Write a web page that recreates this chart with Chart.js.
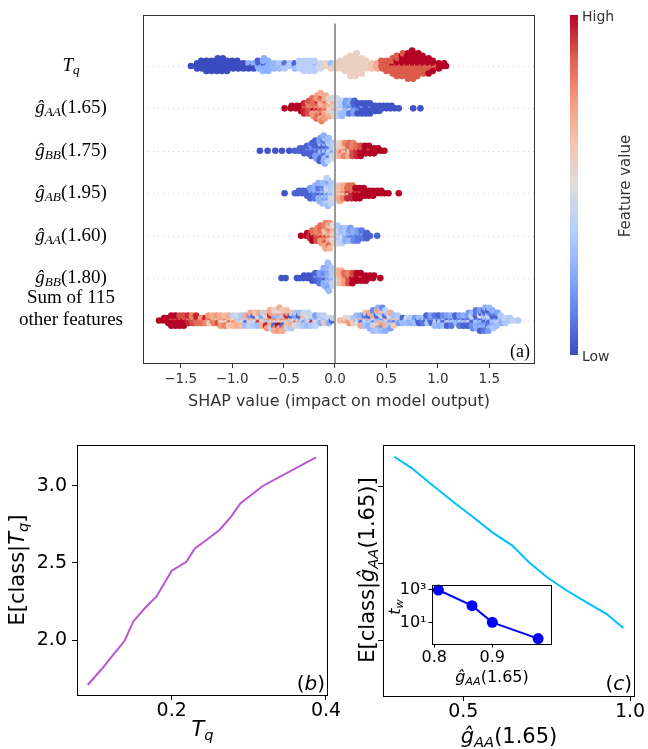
<!DOCTYPE html>
<html>
<head>
<meta charset="utf-8">
<script src="https://cdn.jsdelivr.net/npm/chart.js@4.4.1/dist/chart.umd.min.js"></script>
<style>
  body { margin: 0; background: #fff; }
  #wrap { position: relative; width: 648px; height: 749px; overflow: hidden; }
  canvas { position: absolute; }
</style>
</head>
<body>
<div id="wrap">
  <canvas id="shapChart" width="648" height="420" style="left:0;top:0"></canvas>
  <canvas id="tqChart" width="648" height="324" style="left:0;top:425px"></canvas>
  <canvas id="gaaChart" width="648" height="324" style="left:0;top:425px"></canvas>
  <canvas id="twChart" width="185" height="120" style="left:380px;top:570px"></canvas>
</div>
<script>
// ---- data ----
// swarm entries: [SHAP value, number of samples, feature value (0 = low, 1 = high)]
const swarmTq = [
  [-1.40, 1, 0], [-1.35, 3, 0], [-1.30, 4, 0], [-1.25, 5, 0], [-1.20, 5, 0], [-1.15, 6, 0],
  [-1.10, 6, 0], [-1.05, 5, 0], [-1.00, 4, 0], [-0.95, 4, 0], [-0.90, 3, 0],
  [-0.85, 2, 0], [-0.85, 1, 0.25], [-0.80, 2, 0], [-0.80, 1, 0.25], [-0.75, 2, 0.25], [-0.75, 2, 0.05],
  [-0.70, 5, 0.25], [-0.70, 1, 0.05], [-0.65, 5, 0.25], [-0.60, 3, 0.28], [-0.55, 2, 0.3], [-0.55, 1, 0.35],
  [-0.50, 2, 0.35], [-0.50, 1, 0.1], [-0.45, 2, 0.35], [-0.40, 2, 0.3], [-0.40, 1, 0.05],
  [-0.35, 4, 0.38], [-0.30, 5, 0.38], [-0.25, 5, 0.38], [-0.20, 4, 0.38], [-0.20, 1, 0.3],
  [-0.15, 3, 0.45], [-0.10, 2, 0.55], [-0.05, 2, 0.55], [-0.05, 1, 0.3],
  [0.00, 3, 0.57], [0.05, 4, 0.57], [0.10, 6, 0.57], [0.15, 9, 0.57], [0.20, 10, 0.57], [0.25, 7, 0.57],
  [0.30, 4, 0.57], [0.35, 3, 0.62], [0.40, 3, 0.7],
  [0.45, 4, 0.88], [0.50, 5, 0.88], [0.55, 6, 0.88], [0.55, 1, 1], [0.60, 7, 0.88], [0.60, 2, 1],
  [0.65, 6, 0.88], [0.65, 4, 1], [0.70, 6, 0.88], [0.70, 5, 1], [0.75, 6, 0.88], [0.75, 6, 1],
  [0.80, 5, 0.88], [0.80, 5, 1], [0.85, 4, 0.88], [0.85, 4, 1], [0.90, 3, 0.88], [0.90, 4, 1],
  [0.95, 2, 0.88], [0.95, 3, 1], [1.00, 1, 0.88], [1.00, 2, 1], [1.05, 2, 1], [1.08, 1, 1]
];
const swarmAA165 = [
  [-0.49, 1, 1], [-0.43, 2, 1], [-0.38, 2, 1], [-0.34, 3, 1], [-0.30, 4, 0.95], [-0.30, 1, 0.85],
  [-0.26, 4, 0.9], [-0.26, 2, 0.8], [-0.22, 4, 0.85], [-0.22, 3, 0.75], [-0.22, 1, 1],
  [-0.18, 4, 0.85], [-0.18, 4, 0.75], [-0.18, 2, 0.95], [-0.14, 4, 0.8], [-0.14, 4, 0.7], [-0.14, 3, 0.9], [-0.14, 1, 0.65],
  [-0.10, 4, 0.75], [-0.10, 4, 0.7], [-0.10, 2, 0.85], [-0.06, 3, 0.7], [-0.06, 3, 0.6], [-0.06, 2, 0.5],
  [-0.02, 3, 0.6], [-0.02, 3, 0.45], [-0.02, 2, 0.7], [0.02, 4, 0.45], [0.02, 3, 0.4], [0.02, 1, 0.6],
  [0.06, 3, 0.4], [0.06, 3, 0.3], [0.06, 1, 0.5], [0.10, 3, 0.3], [0.10, 3, 0.2],
  [0.14, 3, 0.25], [0.14, 2, 0.1], [0.14, 1, 0.4], [0.18, 3, 0.2], [0.18, 3, 0.05],
  [0.22, 2, 0.15], [0.22, 3, 0.02], [0.26, 4, 0.02], [0.26, 1, 0.2], [0.30, 5, 0.02],
  [0.34, 4, 0.02], [0.34, 1, 0.15], [0.38, 3, 0.02], [0.42, 3, 0.02], [0.46, 2, 0.02],
  [0.50, 2, 0.02], [0.54, 2, 0.02], [0.58, 1, 0.02], [0.62, 1, 0.02], [0.76, 1, 0.02], [0.83, 1, 0.02]
];
const swarmBB175 = [
  [-0.73, 1, 0.02], [-0.655, 1, 0.02], [-0.58, 1, 0.02], [-0.515, 1, 0.02], [-0.445, 1, 0.02],
  [-0.39, 1, 0.05], [-0.35, 2, 0.05], [-0.31, 3, 0.05], [-0.27, 3, 0.05], [-0.27, 1, 0.15],
  [-0.23, 4, 0.05], [-0.23, 2, 0.15], [-0.19, 4, 0.05], [-0.19, 3, 0.2], [-0.19, 1, 0.1],
  [-0.15, 4, 0.05], [-0.15, 4, 0.2], [-0.15, 2, 0.3],
  [-0.11, 3, 0.1], [-0.11, 5, 0.25], [-0.11, 3, 0.35], [-0.11, 1, 0.05],
  [-0.07, 3, 0.1], [-0.07, 4, 0.3], [-0.07, 3, 0.4], [-0.03, 3, 0.35], [-0.03, 3, 0.45], [-0.03, 1, 0.2],
  [0.01, 3, 0.5], [0.01, 2, 0.6], [0.01, 1, 0.7], [0.05, 3, 0.6], [0.05, 2, 0.7], [0.05, 1, 0.85],
  [0.09, 2, 0.65], [0.09, 3, 0.8], [0.09, 1, 0.55], [0.13, 3, 0.85], [0.13, 2, 0.7], [0.13, 1, 0.6],
  [0.17, 3, 0.9], [0.17, 3, 0.8], [0.21, 3, 0.95], [0.21, 2, 0.85], [0.25, 3, 1], [0.25, 2, 0.9],
  [0.29, 4, 1], [0.33, 3, 1], [0.33, 1, 0.9], [0.37, 3, 1], [0.41, 2, 1], [0.45, 1, 1], [0.48, 1, 1]
];
const swarmAB195 = [
  [-0.49, 1, 0.02], [-0.39, 1, 0.05], [-0.36, 2, 0.05], [-0.32, 2, 0.05], [-0.28, 3, 0.05],
  [-0.24, 3, 0.05], [-0.24, 2, 0.2], [-0.20, 3, 0.1], [-0.20, 3, 0.25],
  [-0.16, 3, 0.1], [-0.16, 4, 0.25], [-0.16, 1, 0.05], [-0.12, 3, 0.2], [-0.12, 4, 0.3], [-0.12, 2, 0.1],
  [-0.08, 4, 0.3], [-0.08, 4, 0.38], [-0.08, 3, 0.2], [-0.08, 1, 0.45],
  [-0.04, 4, 0.35], [-0.04, 4, 0.42], [-0.04, 1, 0.25], [0.00, 3, 0.45], [0.00, 3, 0.55], [0.00, 1, 0.35],
  [0.04, 3, 0.65], [0.04, 3, 0.7], [0.04, 1, 0.55], [0.08, 3, 0.7], [0.08, 2, 0.8], [0.08, 1, 0.6],
  [0.12, 3, 0.85], [0.12, 2, 0.95], [0.12, 1, 0.7], [0.16, 3, 0.95], [0.16, 3, 0.85],
  [0.20, 4, 1], [0.20, 1, 0.9], [0.24, 4, 1], [0.24, 1, 0.9], [0.28, 4, 1], [0.32, 3, 1], [0.36, 3, 1],
  [0.40, 2, 1], [0.44, 2, 1], [0.48, 1, 1], [0.52, 1, 1], [0.62, 1, 1]
];
const swarmAA160 = [
  [-0.33, 1, 1], [-0.28, 2, 1], [-0.25, 3, 0.95], [-0.22, 3, 1], [-0.22, 2, 0.85],
  [-0.18, 3, 0.9], [-0.18, 3, 0.8], [-0.14, 4, 0.85], [-0.14, 3, 0.75], [-0.14, 1, 0.95],
  [-0.10, 4, 0.8], [-0.10, 4, 0.7], [-0.10, 2, 0.9], [-0.10, 1, 0.6],
  [-0.06, 4, 0.75], [-0.06, 4, 0.65], [-0.06, 3, 0.85], [-0.02, 3, 0.6], [-0.02, 3, 0.5], [-0.02, 2, 0.7],
  [0.02, 3, 0.45], [0.02, 3, 0.35], [0.02, 2, 0.55], [0.06, 3, 0.3], [0.06, 3, 0.4], [0.06, 1, 0.5],
  [0.10, 3, 0.25], [0.10, 3, 0.35], [0.14, 3, 0.2], [0.14, 2, 0.3], [0.14, 1, 0.1],
  [0.18, 3, 0.15], [0.18, 2, 0.25], [0.22, 3, 0.1], [0.22, 2, 0.2], [0.26, 3, 0.1], [0.26, 1, 0.2],
  [0.30, 3, 0.05], [0.34, 1, 0.05], [0.41, 1, 0.05]
];
const swarmBB180 = [
  [-0.52, 1, 0.02], [-0.48, 1, 0.02], [-0.37, 1, 0.02], [-0.345, 1, 0.02], [-0.31, 2, 0.02],
  [-0.27, 2, 0.02], [-0.23, 3, 0.02], [-0.19, 3, 0.05], [-0.19, 1, 0.2], [-0.15, 3, 0.1], [-0.15, 2, 0.2],
  [-0.11, 3, 0.15], [-0.11, 4, 0.25], [-0.11, 1, 0.05], [-0.07, 4, 0.25], [-0.07, 5, 0.3], [-0.07, 3, 0.2],
  [-0.03, 4, 0.35], [-0.03, 3, 0.4], [-0.03, 1, 0.25], [0.01, 3, 0.5], [0.01, 3, 0.65],
  [0.05, 3, 0.65], [0.05, 3, 0.7], [0.09, 3, 0.75], [0.09, 2, 0.85], [0.13, 3, 0.9], [0.13, 2, 0.8],
  [0.17, 3, 1], [0.17, 2, 0.9], [0.21, 4, 1], [0.25, 3, 1], [0.25, 1, 0.9], [0.29, 3, 1],
  [0.33, 2, 1], [0.37, 2, 1], [0.44, 1, 1]
];
const swarmRest = [
  [-1.71, 1, 1], [-1.67, 2, 1], [-1.63, 3, 1], [-1.59, 4, 1], [-1.59, 1, 0.9], [-1.55, 4, 1], [-1.55, 1, 0.9],
  [-1.51, 3, 1], [-1.51, 2, 0.9], [-1.47, 3, 1], [-1.47, 2, 0.9], [-1.43, 3, 0.95], [-1.43, 1, 0.8],
  [-1.39, 2, 0.9], [-1.39, 2, 0.8], [-1.35, 2, 0.85], [-1.35, 2, 0.95], [-1.31, 2, 0.85], [-1.31, 1, 0.75],
  [-1.27, 2, 0.8], [-1.27, 1, 0.95], [-1.23, 2, 0.75], [-1.23, 1, 0.85], [-1.23, 1, 0.6],
  [-1.19, 2, 0.8], [-1.19, 2, 0.7], [-1.15, 2, 0.75], [-1.15, 1, 0.6], [-1.15, 1, 0.9],
  [-1.11, 2, 0.7], [-1.11, 2, 0.75], [-1.11, 1, 0.5], [-1.07, 2, 0.65], [-1.07, 2, 0.8], [-1.07, 1, 0.55],
  [-1.03, 2, 0.7], [-1.03, 2, 0.6], [-1.03, 1, 0.85], [-0.99, 2, 0.65], [-0.99, 1, 0.5], [-0.99, 1, 0.75], [-0.99, 1, 0.4],
  [-0.95, 2, 0.7], [-0.95, 1, 0.35], [-0.95, 1, 0.6], [-0.95, 1, 0.45],
  [-0.91, 2, 0.35], [-0.91, 2, 0.65], [-0.91, 1, 0.5], [-0.87, 2, 0.3], [-0.87, 1, 0.6], [-0.87, 1, 0.05], [-0.87, 1, 0.7],
  [-0.83, 2, 0.4], [-0.83, 2, 0.7], [-0.83, 1, 0.55], [-0.83, 1, 0.2],
  [-0.79, 2, 0.35], [-0.79, 2, 0.65], [-0.79, 1, 0.5], [-0.79, 1, 0.05],
  [-0.75, 2, 0.3], [-0.75, 2, 0.7], [-0.75, 1, 0.95], [-0.75, 1, 0.45],
  [-0.71, 2, 0.7], [-0.71, 2, 0.4], [-0.71, 1, 0.55], [-0.71, 1, 0.2],
  [-0.67, 2, 0.65], [-0.67, 2, 0.75], [-0.67, 1, 0.35], [-0.67, 1, 0.5], [-0.67, 1, 0.95],
  [-0.63, 3, 0.7], [-0.63, 2, 0.75], [-0.63, 2, 0.4], [-0.63, 1, 0.95],
  [-0.59, 3, 0.7], [-0.59, 2, 0.8], [-0.59, 2, 0.55], [-0.59, 1, 0.25], [-0.59, 1, 0.05],
  [-0.55, 3, 0.75], [-0.55, 3, 0.7], [-0.55, 2, 0.5], [-0.55, 1, 0.3], [-0.55, 1, 1],
  [-0.51, 3, 0.7], [-0.51, 2, 0.8], [-0.51, 2, 0.6], [-0.51, 1, 0.35], [-0.51, 1, 0.05],
  [-0.47, 3, 0.65], [-0.47, 2, 0.75], [-0.47, 2, 0.4], [-0.47, 1, 0.95],
  [-0.43, 2, 0.7], [-0.43, 2, 0.6], [-0.43, 2, 0.35], [-0.43, 1, 0.05],
  [-0.39, 2, 0.55], [-0.39, 2, 0.35], [-0.39, 1, 0.8], [-0.39, 1, 0.2],
  [-0.35, 2, 0.4], [-0.35, 2, 0.3], [-0.35, 1, 0.7], [-0.35, 1, 0.05],
  [-0.31, 2, 0.35], [-0.31, 2, 0.45], [-0.31, 1, 0.2], [-0.31, 1, 0.65],
  [-0.27, 2, 0.3], [-0.27, 2, 0.4], [-0.27, 1, 0.6], [-0.27, 1, 0.5],
  [-0.23, 2, 0.35], [-0.23, 1, 0.25], [-0.23, 1, 0.95], [-0.23, 1, 0.45],
  [-0.19, 2, 0.4], [-0.19, 1, 0.3], [-0.19, 1, 0.55], [-0.19, 1, 0.2],
  [-0.15, 2, 0.35], [-0.15, 1, 0.45], [-0.15, 1, 0.25], [-0.11, 2, 0.4], [-0.11, 1, 0.3], [-0.11, 1, 0.6],
  [-0.07, 1, 0.35], [-0.07, 1, 0.45], [-0.07, 1, 0.25], [-0.03, 1, 0.05], [-0.03, 1, 0.4],
  [0.05, 1, 0.65], [0.09, 1, 0.7], [0.09, 1, 0.55], [0.13, 2, 0.75], [0.13, 1, 0.5],
  [0.17, 2, 0.6], [0.17, 1, 0.35], [0.21, 2, 0.3], [0.21, 1, 0.65], [0.21, 1, 0.5],
  [0.25, 2, 0.25], [0.25, 2, 0.7], [0.25, 1, 0.05], [0.29, 2, 0.3], [0.29, 2, 0.65], [0.29, 1, 0.45], [0.29, 1, 0.1],
  [0.33, 3, 0.25], [0.33, 2, 0.7], [0.33, 1, 0.4], [0.33, 1, 0.05],
  [0.37, 3, 0.3], [0.37, 2, 0.6], [0.37, 2, 0.15], [0.37, 1, 0.7], [0.37, 1, 0.45],
  [0.41, 3, 0.35], [0.41, 3, 0.25], [0.41, 2, 0.7], [0.41, 1, 0.05], [0.41, 1, 0.55],
  [0.45, 3, 0.3], [0.45, 3, 0.15], [0.45, 2, 0.65], [0.45, 1, 0.45], [0.45, 1, 0.75],
  [0.49, 3, 0.25], [0.49, 2, 0.65], [0.49, 2, 0.4], [0.49, 1, 0.05], [0.49, 1, 0.7],
  [0.53, 2, 0.35], [0.53, 2, 0.7], [0.53, 2, 0.2], [0.53, 1, 0.5], [0.57, 2, 0.3], [0.57, 2, 0.6], [0.57, 1, 0.1],
  [0.61, 2, 0.35], [0.61, 1, 0.65], [0.61, 1, 0.2], [0.65, 2, 0.3], [0.65, 1, 0.05],
  [0.69, 2, 0.3], [0.69, 1, 0.45], [0.73, 2, 0.25], [0.73, 1, 0.35], [0.77, 2, 0.3], [0.77, 1, 0.2],
  [0.81, 2, 0.05], [0.81, 1, 0.3], [0.85, 2, 0.1], [0.85, 1, 0.3],
  [0.89, 2, 0.05], [0.89, 1, 0.25], [0.89, 1, 0.35], [0.93, 2, 0.05], [0.93, 2, 0.2],
  [0.97, 2, 0.1], [0.97, 2, 0.3], [0.97, 1, 0.5], [1.01, 2, 0.05], [1.01, 2, 0.25], [1.01, 1, 0.4],
  [1.05, 2, 0.15], [1.05, 2, 0.3], [1.05, 1, 0.05], [1.09, 2, 0.2], [1.09, 2, 0.05], [1.09, 1, 0.45],
  [1.13, 2, 0.25], [1.13, 2, 0.1], [1.13, 1, 0.35], [1.17, 2, 0.3], [1.17, 2, 0.05],
  [1.21, 2, 0.2], [1.21, 2, 0.1], [1.21, 1, 0.4], [1.25, 2, 0.25], [1.25, 2, 0.05], [1.25, 1, 0.35],
  [1.29, 3, 0.2], [1.29, 2, 0.05], [1.29, 1, 0.5], [1.33, 3, 0.15], [1.33, 2, 0.3], [1.33, 1, 0.05], [1.33, 1, 0.45],
  [1.37, 3, 0.25], [1.37, 3, 0.1], [1.37, 1, 0.35], [1.37, 1, 0.05],
  [1.41, 3, 0.2], [1.41, 3, 0.05], [1.41, 2, 0.3], [1.41, 1, 0.5],
  [1.45, 3, 0.1], [1.45, 3, 0.25], [1.45, 2, 0.05], [1.45, 1, 0.35], [1.45, 1, 0.2],
  [1.49, 3, 0.2], [1.49, 3, 0.3], [1.49, 2, 0.05], [1.49, 1, 0.45], [1.49, 1, 0.1],
  [1.53, 3, 0.25], [1.53, 2, 0.15], [1.53, 2, 0.35], [1.53, 1, 0.05],
  [1.57, 2, 0.3], [1.57, 2, 0.2], [1.57, 1, 0.4], [1.57, 1, 0.05],
  [1.61, 2, 0.35], [1.61, 1, 0.3], [1.61, 1, 0.25], [1.65, 2, 0.35], [1.65, 1, 0.4],
  [1.69, 2, 0.35], [1.73, 1, 0.4], [1.78, 1, 0.35]
];
const swarms = [swarmTq, swarmAA165, swarmBB175, swarmAB195, swarmAA160, swarmBB180, swarmRest];

// row labels, top to bottom: lines of [text, style] ('i' italic, 's' subscript)
const rowLabels = [
  [[['T', 'i'], ['q', 'is']]],
  [[['ĝ', 'i'], ['AA', 'is'], ['(1.65)', '']]],
  [[['ĝ', 'i'], ['BB', 'is'], ['(1.75)', '']]],
  [[['ĝ', 'i'], ['AB', 'is'], ['(1.95)', '']]],
  [[['ĝ', 'i'], ['AA', 'is'], ['(1.60)', '']]],
  [[['ĝ', 'i'], ['BB', 'is'], ['(1.80)', '']]],
  [[['Sum of 115', '']], [['other features', '']]]
];
const shapTicks = [-1.5, -1.0, -0.5, 0.0, 0.5, 1.0, 1.5];

// (b) E[class | Tq]
const tqX = [0.091, 0.109, 0.124, 0.139, 0.150, 0.165, 0.180, 0.189, 0.200, 0.219, 0.230, 0.245, 0.262, 0.277, 0.289, 0.318, 0.387];
const tqY = [1.708, 1.810, 1.903, 1.995, 2.119, 2.206, 2.281, 2.357, 2.450, 2.508, 2.595, 2.649, 2.714, 2.801, 2.887, 3.000, 3.186];
const tqTicks = [0.2, 0.4];
const classTicks = [2.0, 2.5, 3.0];

// (c) E[class | gAA(1.65)]
const gaaX = [0.293, 0.346, 0.401, 0.476, 0.531, 0.586, 0.646, 0.696, 0.751, 0.810, 0.870, 0.930, 0.980];
const gaaY = [3.190, 3.115, 3.017, 2.888, 2.797, 2.703, 2.617, 2.509, 2.411, 2.325, 2.249, 2.173, 2.082];
const gaaTicks = [0.5, 1.0];

// inset: t_w vs gAA(1.65)
const twX = [0.807, 0.865, 0.900, 0.979];
const twY = [1000, 110, 10.5, 1.07];
const twXTicks = [0.8, 0.9];
const twYTicks = [10, 1000];

// ---- helpers ----
Chart.defaults.font.family = "'DejaVu Sans'";

const coolwarmStops = [
  [59, 76, 192], [98, 130, 234], [141, 176, 254], [184, 208, 249], [221, 220, 220],
  [245, 196, 173], [244, 154, 123], [222, 96, 77], [180, 4, 38]
];
function coolwarm(v) {
  const t = Math.min(Math.max(v, 0), 1) * 8;
  const i = Math.min(Math.floor(t), 7);
  const f = t - i;
  const a = coolwarmStops[i], b = coolwarmStops[i + 1];
  return 'rgb(' + a.map((c, k) => Math.round(c + (b[k] - c) * f)).join(',') + ')';
}

// stack the samples of each SHAP value up and down around the row (beeswarm layout)
const ROW_STEP = 0.06;
function layoutSwarm(entries, row) {
  const cols = new Map();
  entries.forEach(([x, n, fv]) => {
    if (!cols.has(x)) cols.set(x, []);
    cols.get(x).push({ n, fv });
  });
  const pts = [];
  cols.forEach((groups, x) => {
    const fvs = [];
    let more = true;
    while (more) {
      more = false;
      groups.forEach(g => { if (g.n > 0) { fvs.push(g.fv); g.n--; more = true; } });
    }
    fvs.forEach((fv, i) => {
      const k = i % 2 ? (i + 1) / 2 : -i / 2;
      pts.push({ x: x + (Math.abs(k) % 2 ? 0.01 : 0), y: row + k * ROW_STEP, fv });
    });
  });
  return pts;
}

// draw text made of parts with italic / subscript pieces
function drawRich(ctx, parts, x, y, size, family, align, rotate) {
  ctx.save();
  ctx.translate(x, y);
  if (rotate) ctx.rotate(-Math.PI / 2);
  const pieces = parts.map(([t, st]) => {
    const sub = st.includes('s');
    const sz = sub ? size * 0.7 : size;
    return { t, font: (st.includes('i') ? 'italic ' : '') + sz + 'px ' + family, dy: sub ? size * 0.24 : 0 };
  });
  let w = 0;
  pieces.forEach(p => { ctx.font = p.font; p.w = ctx.measureText(p.t).width; w += p.w; });
  let cx = align === 'right' ? -w : align === 'left' ? 0 : -w / 2;
  ctx.textBaseline = 'middle';
  ctx.textAlign = 'left';
  ctx.fillStyle = '#000';
  pieces.forEach(p => { ctx.font = p.font; ctx.fillText(p.t, cx, p.dy); cx += p.w; });
  ctx.restore();
}

function frame(ctx, a, color) {
  ctx.save();
  ctx.strokeStyle = color;
  ctx.lineWidth = 1;
  ctx.strokeRect(Math.round(a.left) + 0.5, Math.round(a.top) + 0.5,
    Math.round(a.right - a.left) - 1, Math.round(a.bottom - a.top));
  ctx.restore();
}

// ---- (a) SHAP beeswarm ----
const swarmData = [];
swarms.forEach((s, i) => swarmData.push(...layoutSwarm(s, swarms.length - 1 - i)));

const shapDecor = {
  id: 'shapDecor',
  beforeDatasetsDraw(chart) {
    const { ctx, chartArea: a, scales: { y } } = chart;
    ctx.save();
    ctx.strokeStyle = '#cccccc';
    ctx.lineWidth = 1;
    ctx.setLineDash([1, 4]);
    swarms.forEach((s, i) => {
      const py = Math.round(y.getPixelForValue(swarms.length - 1 - i)) + 0.5;
      ctx.beginPath();
      ctx.moveTo(a.left, py);
      ctx.lineTo(a.right, py);
      ctx.stroke();
    });
    ctx.restore();
  },
  afterDraw(chart) {
    const { ctx, chartArea: a, scales: { y } } = chart;
    frame(ctx, a, '#333');
    rowLabels.forEach((lines, i) => {
      const py = y.getPixelForValue(swarms.length - 1 - i);
      lines.forEach((parts, j) => {
        const off = lines.length > 1 ? -23 + 22 * j : 0;
        drawRich(ctx, parts, 71, py + off, 19, "'Liberation Serif'", 'center', false);
      });
    });
    drawRich(ctx, [['(a)', '']], a.right - 5, a.bottom - 11, 18, "'Liberation Serif'", 'right', false);

    // colour bar
    const g = ctx.createLinearGradient(0, 355, 0, 15);
    coolwarmStops.forEach((c, k) => g.addColorStop(k / 8, 'rgb(' + c.join(',') + ')'));
    ctx.save();
    ctx.fillStyle = g;
    ctx.fillRect(570, 15, 8, 340);
    ctx.fillStyle = '#333';
    ctx.font = "14px 'DejaVu Sans'";
    ctx.textBaseline = 'middle';
    ctx.textAlign = 'left';
    ctx.fillText('High', 582, 17);
    ctx.fillText('Low', 582, 357);
    ctx.font = "15px 'DejaVu Sans'";
    ctx.translate(626, 186);
    ctx.rotate(-Math.PI / 2);
    ctx.textAlign = 'center';
    ctx.fillText('Feature value', 0, 0);
    ctx.restore();
  }
};

new Chart(document.getElementById('shapChart'), {
  type: 'scatter',
  data: {
    datasets: [
      {
        data: [{ x: 0, y: -1 }, { x: 0, y: 7 }],
        showLine: true,
        borderColor: '#999999',
        borderWidth: 2,
        pointRadius: 0,
        order: 0
      },
      {
        data: swarmData,
        pointRadius: 3.3,
        pointBorderWidth: 0,
        pointBackgroundColor: c => coolwarm(c.raw ? c.raw.fv : 0.5),
        order: 1
      }
    ]
  },
  options: {
    responsive: false,
    animation: false,
    events: [],
    layout: { padding: { left: 143, right: 113, top: 15, bottom: 0 } },
    plugins: { legend: { display: false }, tooltip: { enabled: false } },
    scales: {
      x: {
        type: 'linear',
        min: -1.866,
        max: 1.944,
        afterBuildTicks: s => { s.ticks = shapTicks.map(v => ({ value: v })); },
        afterFit: s => { s.height = 57; },
        border: { display: false },
        grid: { drawOnChartArea: false, tickLength: 5, color: '#333' },
        ticks: {
          color: '#333',
          font: { size: 13.5, lineHeight: 1 },
          padding: 5,
          autoSkip: false,
          maxRotation: 0,
          callback: v => (v < 0 ? '\u2212' : '') + Math.abs(v).toFixed(1)
        },
        title: {
          display: true,
          text: 'SHAP value (impact on model output)',
          color: '#333',
          font: { size: 16, lineHeight: 1 },
          padding: { top: 0, bottom: 10 }
        }
      },
      y: { type: 'linear', min: -1, max: 7.2, display: false }
    }
  },
  plugins: [shapDecor]
});

// ---- (b) and (c) ----
function panelOptions(o) {
  return {
    responsive: false,
    animation: false,
    events: [],
    layout: { padding: o.padding },
    plugins: { legend: { display: false }, tooltip: { enabled: false } },
    scales: {
      x: {
        type: 'linear',
        min: o.xMin,
        max: o.xMax,
        afterBuildTicks: s => { s.ticks = o.xTicks.map(v => ({ value: v })); },
        afterFit: s => { s.height = o.xHeight; },
        border: { display: false },
        grid: { drawOnChartArea: false, tickLength: 5, color: '#000' },
        ticks: { color: '#000', font: { size: 19, lineHeight: 1 }, padding: 2, maxRotation: 0, callback: v => v.toFixed(1) }
      },
      y: {
        type: 'linear',
        min: 1.643,
        max: 3.266,
        afterBuildTicks: s => { s.ticks = classTicks.map(v => ({ value: v })); },
        afterFit: s => { s.width = o.yWidth; },
        border: { display: false },
        grid: { drawOnChartArea: false, tickLength: 5, color: '#000' },
        ticks: { display: o.yLabels, color: '#000', font: { size: 19 }, padding: 5, callback: v => v.toFixed(1) }
      }
    }
  };
}

new Chart(document.getElementById('tqChart'), {
  type: 'scatter',
  data: {
    datasets: [{
      data: tqX.map((x, i) => ({ x, y: tqY[i] })),
      showLine: true,
      borderColor: '#ba55d3',
      borderWidth: 2,
      pointRadius: 0
    }]
  },
  options: panelOptions({ padding: { left: 0, right: 320, top: 20, bottom: 0 }, xMin: 0.0772, xMax: 0.4026, xTicks: tqTicks, xHeight: 54, yWidth: 77, yLabels: true }),
  plugins: [{
    id: 'tqDecor',
    afterDraw(chart) {
      const { ctx, chartArea: a } = chart;
      frame(ctx, a, '#000');
      drawRich(ctx, [['E[class|', ''], ['T', 'i'], ['q', 'is'], [']', '']], 19, 145, 21, "'DejaVu Sans'", 'center', true);
      drawRich(ctx, [['T', 'i'], ['q', 'is']], (a.left + a.right) / 2, 306, 21, "'DejaVu Sans'", 'center', false);
      drawRich(ctx, [['(', ''], ['b', 'i'], [')', '']], a.right - 3, 260, 20, "'DejaVu Sans'", 'right', false);
    }
  }]
});

new Chart(document.getElementById('gaaChart'), {
  type: 'scatter',
  data: {
    datasets: [{
      data: gaaX.map((x, i) => ({ x, y: gaaY[i] })),
      showLine: true,
      borderColor: '#00bfff',
      borderWidth: 2,
      pointRadius: 0
    }]
  },
  options: panelOptions({ padding: { left: 0, right: 13, top: 20, bottom: 0 }, xMin: 0.259, xMax: 1.015, xTicks: gaaTicks, xHeight: 53, yWidth: 383, yLabels: false }),
  plugins: [{
    id: 'gaaDecor',
    afterDraw(chart) {
      const { ctx, chartArea: a } = chart;
      frame(ctx, a, '#000');
      drawRich(ctx, [['E[class|', ''], ['ĝ', 'i'], ['AA', 'is'], ['(1.65)]', '']], 369, 145, 21, "'DejaVu Sans'", 'center', true);
      drawRich(ctx, [['ĝ', 'i'], ['AA', 'is'], ['(1.65)', '']], (a.left + a.right) / 2, 313, 21, "'DejaVu Sans'", 'center', false);
      drawRich(ctx, [['(', ''], ['c', 'i'], [')', '']], a.right - 3, 260, 20, "'DejaVu Sans'", 'right', false);
    }
  }]
});

// ---- inset ----
const sup = { 0: '\u2070', 1: '\u00b9', 2: '\u00b2', 3: '\u00b3' };
new Chart(document.getElementById('twChart'), {
  type: 'scatter',
  data: {
    datasets: [{
      data: twX.map((x, i) => ({ x, y: twY[i] })),
      showLine: true,
      borderColor: '#0000ff',
      borderWidth: 2,
      pointRadius: 5.5,
      pointBackgroundColor: '#0000ff',
      pointBorderWidth: 0,
      clip: false
    }]
  },
  options: {
    responsive: false,
    animation: false,
    events: [],
    layout: { padding: { left: 0, right: 13, top: 15, bottom: 0 } },
    plugins: { legend: { display: false }, tooltip: { enabled: false } },
    scales: {
      x: {
        type: 'linear',
        min: 0.796,
        max: 1.003,
        afterBuildTicks: s => { s.ticks = twXTicks.map(v => ({ value: v })); },
        afterFit: s => { s.height = 46; },
        border: { display: false },
        grid: { drawOnChartArea: false, tickLength: 3.5, color: '#000' },
        ticks: { color: '#000', font: { size: 16, lineHeight: 1 }, padding: 2.5, maxRotation: 0, callback: v => v.toFixed(1) }
      },
      y: {
        type: 'logarithmic',
        min: 0.5,
        max: 2020,
        afterBuildTicks: s => { s.ticks = twYTicks.map(v => ({ value: v })); },
        afterFit: s => { s.width = 52; },
        border: { display: false },
        grid: { drawOnChartArea: false, tickLength: 3.5, color: '#000' },
        ticks: { color: '#000', font: { size: 16 }, padding: 2, callback: v => '10' + sup[Math.round(Math.log10(v))] }
      }
    }
  },
  plugins: [{
    id: 'twDecor',
    beforeDraw(chart) {
      const { ctx, chartArea: a } = chart;
      ctx.save();
      ctx.fillStyle = '#fff';
      ctx.fillRect(a.left, a.top, a.right - a.left, a.bottom - a.top);
      ctx.restore();
    },
    afterDraw(chart) {
      const { ctx, chartArea: a } = chart;
      frame(ctx, a, '#000');
      drawRich(ctx, [['t', 'i'], ['w', 'is']], 16, 37, 16, "'DejaVu Sans'", 'center', true);
      drawRich(ctx, [['ĝ', 'i'], ['AA', 'is'], ['(1.65)', '']], (a.left + a.right) / 2, 108, 16, "'DejaVu Sans'", 'center', false);
    }
  }]
});
</script>
</body>
</html>
